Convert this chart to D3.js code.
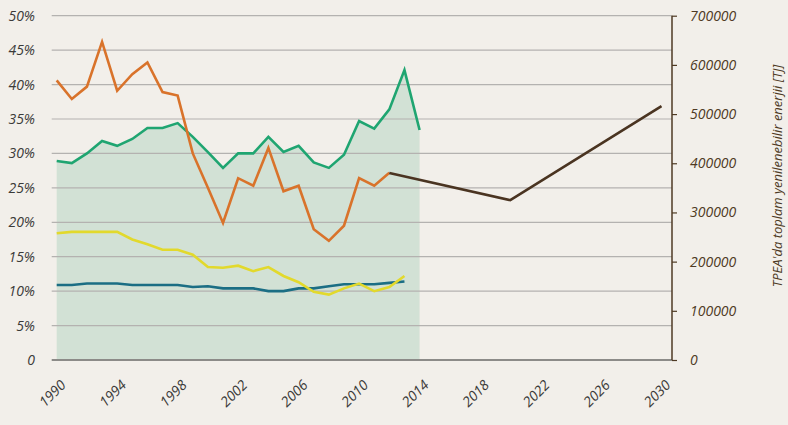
<!DOCTYPE html>
<html>
<head>
<meta charset="utf-8">
<script src="https://cdn.jsdelivr.net/npm/d3@7/dist/d3.min.js"></script>
<style>
  body { margin: 0; background: #f2efea; }
  svg { display: block; font-family: "Open Sans", "Noto Sans", sans-serif; }
  .lab { font-style: italic; font-size: 14px; }
</style>
</head>
<body>
<div id="chart"></div>
<script>
var width = 788, height = 425;

// DATA
var years = d3.range(1990, 2015);
var green = [28.9, 28.6, 30.0, 31.8, 31.1, 32.1, 33.7, 33.7, 34.4, 32.4,
             30.2, 27.9, 30.0, 30.0, 32.4, 30.2, 31.1, 28.7, 27.9, 29.8,
             34.7, 33.6, 36.4, 42.1, 33.4];
var orange = [40.6, 37.9, 39.7, 46.2, 39.1, 41.5, 43.2, 38.9, 38.4, 30.0,
              25.0, 19.9, 26.4, 25.3, 30.8, 24.5, 25.3, 19.0, 17.3, 19.5,
              26.4, 25.3, 27.2];
var yellow = [18.4, 18.6, 18.6, 18.6, 18.6, 17.5, 16.8, 16.0, 16.0, 15.3,
              13.5, 13.4, 13.7, 12.9, 13.5, 12.2, 11.3, 9.9, 9.5, 10.4,
              11.1, 10.0, 10.6, 12.2];
var teal = [10.9, 10.9, 11.1, 11.1, 11.1, 10.9, 10.9, 10.9, 10.9, 10.6,
            10.7, 10.4, 10.4, 10.4, 10.0, 10.0, 10.4, 10.4, 10.7, 11.0,
            11.0, 11.0, 11.2, 11.4];
var projYears = [2012, 2020, 2030];
var projValues = [380000, 325000, 516000];

var xTicks = d3.range(1990, 2031, 4);
var leftTicks = d3.range(0, 51, 5);
var rightTicks = d3.range(0, 700001, 100000);

// SCALES
var x = d3.scaleLinear().domain([1990, 2030]).range([56.7, 661.5]);
var y = d3.scaleLinear().domain([0, 50]).range([360, 15.7]);
var y2 = d3.scaleLinear().domain([0, 700000]).range([360, 15.7]);
var plotLeft = 51.7, plotRight = 672;

var svg = d3.select("#chart").append("svg")
  .attr("width", width).attr("height", height);

svg.append("rect").attr("width", width).attr("height", height).attr("fill", "#f2efea");

// green area
var area = d3.area()
  .x(function(d, i) { return x(years[i]); })
  .y0(y(0))
  .y1(function(d) { return y(d); });
svg.append("path").datum(green).attr("d", area).attr("fill", "#d2e1d5");

// grid
svg.append("g").selectAll("line")
  .data(leftTicks.filter(function(d) { return d > 0; }))
  .enter().append("line")
  .attr("x1", plotLeft).attr("x2", plotRight)
  .attr("y1", function(d) { return y(d); })
  .attr("y2", function(d) { return y(d); })
  .attr("stroke", "#b4b2b0").attr("stroke-width", 1.2);

svg.append("line")
  .attr("x1", plotLeft).attr("x2", plotRight)
  .attr("y1", y(0)).attr("y2", y(0))
  .attr("stroke", "#8c8b88").attr("stroke-width", 2);

// left labels
svg.append("g").selectAll("text")
  .data(leftTicks).enter().append("text")
  .attr("class", "lab")
  .attr("x", 35)
  .attr("y", function(d) { return y(d) + 5; })
  .attr("text-anchor", "end")
  .attr("fill", "#3b3a38")
  .text(function(d) { return d === 0 ? "0" : d + "%"; });

// x labels
svg.append("g").selectAll("text")
  .data(xTicks).enter().append("text")
  .attr("class", "lab")
  .attr("text-anchor", "end")
  .attr("fill", "#3b3a38")
  .attr("transform", function(d) { return "translate(" + (x(d) + 10) + ",386) rotate(-45)"; })
  .text(function(d) { return d; });

// right axis
var rAxis = svg.append("g").attr("transform", "translate(" + plotRight + ",0)")
  .call(d3.axisRight(y2).tickValues(rightTicks).tickSize(5).tickPadding(13).tickFormat(d3.format("d")));
rAxis.select(".domain").attr("stroke", "#4e3a24").attr("stroke-width", 1.5)
  .attr("d", "M0," + y2(700000) + "V" + y2(0));
rAxis.selectAll(".tick line").attr("stroke", "#4e3a24").attr("stroke-width", 1.2);
rAxis.selectAll(".tick text").attr("class", "lab").attr("fill", "#4e3a24")
  .style("font-family", "'Open Sans', sans-serif").attr("dy", "0.32em");

svg.append("text")
  .attr("class", "lab")
  .attr("transform", "translate(782,176) rotate(-90)")
  .attr("text-anchor", "middle")
  .attr("fill", "#4e3a24")
  .style("font-size", "13px")
  .text("TPEA'da toplam yenilenebilir enerjii [TJ]");

// lines
function drawLine(vals, yrs, color, scale) {
  var line = d3.line()
    .x(function(d, i) { return x(yrs[i]); })
    .y(function(d) { return scale(d); });
  svg.append("path").datum(vals).attr("d", line)
    .attr("fill", "none").attr("stroke", color)
    .attr("stroke-width", 2.6).attr("stroke-linejoin", "miter");
}
drawLine(teal, years, "#1b6e84", y);
drawLine(yellow, years, "#e2d92c", y);
drawLine(green, years, "#1fa571", y);
drawLine(orange, years, "#d9732b", y);
drawLine(projValues, projYears, "#4a3421", y2);
</script>
</body>
</html>
